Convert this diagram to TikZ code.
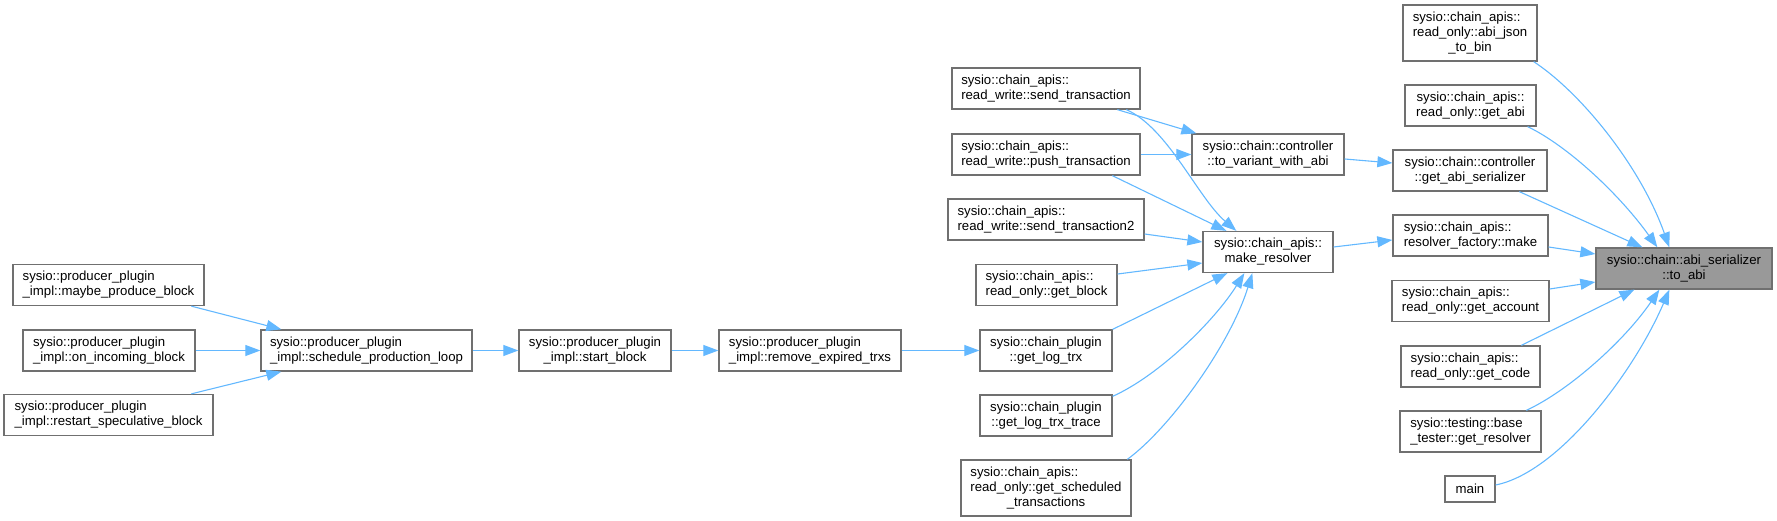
\documentclass[tikz,border=0pt]{standalone}
\usepackage{fontspec}
\setmainfont{Liberation Sans}
\usepackage{calc}
\usetikzlibrary{arrows.meta}
\definecolor{edgeblue}{HTML}{63B8FF}
\definecolor{boxborder}{HTML}{707070}
\definecolor{hlfill}{HTML}{999999}
\newcommand{\lline}[2]{\makebox[\widthof{#1}][l]{#2}}
\tikzset{
  fnbox/.style={draw=boxborder, line width=1.3pt, fill=white, inner sep=0pt,
    font=\fontsize{13.2}{15}\selectfont, minimum height=41pt},
  lft/.style={fnbox, align=left},
  ctr/.style={fnbox, align=center},
  calls/.style={draw=edgeblue, line width=1.1pt, -{Triangle[length=15pt,width=11pt]}}
}
\begin{document}
\begin{tikzpicture}[x=1pt,y=-1pt]
\useasboundingbox (0,0) rectangle (1777,521);
% left part
\node[lft, minimum width=191pt] (mpb) at (108.5,285) {sysio::producer\_plugin\\\_impl::maybe\_produce\_block};
\node[lft, minimum width=172pt] (oib) at (109,350.5) {sysio::producer\_plugin\\\_impl::on\_incoming\_block};
\node[lft, minimum width=209pt] (rsb) at (108.5,415) {sysio::producer\_plugin\\\_impl::restart\_speculative\_block};
\node[lft, minimum width=211pt] (spl) at (366.5,350.5) {sysio::producer\_plugin\\\_impl::schedule\_production\_loop};
\node[ctr, minimum width=152pt] (sb) at (595,350.5) {sysio::producer\_plugin\\\_impl::start\_block};
\node[lft, minimum width=182pt] (ret) at (810,350.5) {sysio::producer\_plugin\\\_impl::remove\_expired\_trxs};
% middle column
\node[lft, minimum width=188pt] (st) at (1046,88.5) {sysio::chain\_apis::\\read\_write::send\_transaction};
\node[lft, minimum width=188pt] (pt) at (1046,154.5) {sysio::chain\_apis::\\read\_write::push\_transaction};
\node[lft, minimum width=196pt] (st2) at (1046,219.5) {sysio::chain\_apis::\\read\_write::send\_transaction2};
\node[lft, minimum width=141pt] (gb) at (1046.5,285) {sysio::chain\_apis::\\read\_only::get\_block};
\node[ctr, minimum width=132pt] (glt) at (1046,350.5) {sysio::chain\_plugin\\::get\_log\_trx};
\node[ctr, minimum width=132pt] (gltt) at (1046,415.5) {sysio::chain\_plugin\\::get\_log\_trx\_trace};
\node[ctr, minimum width=170pt, minimum height=56pt] (gst) at (1046,488) {\lline{read\_only::get\_scheduled}{sysio::chain\_apis::}\\read\_only::get\_scheduled\\\_transactions};
\node[ctr, minimum width=152pt] (tvwa) at (1268,154.5) {sysio::chain::controller\\::to\_variant\_with\_abi};
\node[ctr, minimum width=130pt] (mr) at (1268,252) {sysio::chain\_apis::\\make\_resolver};
% right column
\node[ctr, minimum width=134pt, minimum height=56pt] (ajtb) at (1470,33) {\lline{read\_only::abi\_json}{sysio::chain\_apis::}\\read\_only::abi\_json\\\_to\_bin};
\node[ctr, minimum width=131pt] (ga) at (1470.5,105.5) {sysio::chain\_apis::\\read\_only::get\_abi};
\node[ctr, minimum width=154pt] (gas) at (1470,170.5) {sysio::chain::controller\\::get\_abi\_serializer};
\node[lft, minimum width=155pt] (rfm) at (1470.5,235.5) {sysio::chain\_apis::\\resolver\_factory::make};
\node[lft, minimum width=157pt] (gacc) at (1470.5,301) {sysio::chain\_apis::\\read\_only::get\_account};
\node[lft, minimum width=139pt] (gc) at (1470.5,366.5) {sysio::chain\_apis::\\read\_only::get\_code};
\node[lft, minimum width=141pt] (gr) at (1470.5,431.5) {sysio::testing::base\\\_tester::get\_resolver};
\node[ctr, minimum width=50pt, minimum height=26pt] (main) at (1470,489) {main};
\node[ctr, fill=hlfill, minimum width=176pt] (toabi) at (1684,268.5) {sysio::chain::abi\_serializer\\::to\_abi};
% edges: left part
\draw[calls] ([xshift=179pt]mpb.south west) -- ([xshift=21pt]spl.north west);
\draw[calls] (oib.east) -- (spl.west);
\draw[calls] ([xshift=188pt]rsb.north west) -- ([xshift=21pt]spl.south west);
\draw[calls] (spl.east) -- (sb.west);
\draw[calls] (sb.east) -- (ret.west);
\draw[calls] (ret.east) -- (glt.west);
% edges: middle
\draw[calls] ([xshift=166pt]st.south west) -- ([xshift=5pt]tvwa.north west);
\draw[calls] ([xshift=175pt]st.south west) .. controls (1168,128) and (1198,198) .. ([xshift=34pt]mr.north west);
\draw[calls] (pt.east) -- (tvwa.west);
\draw[calls] ([xshift=161pt]pt.south west) -- ([xshift=24pt]mr.north west);
\draw[calls] ([yshift=-14.5pt]st2.east) -- ([yshift=10pt]mr.west);
\draw[calls] ([yshift=11pt]gb.east) -- ([yshift=-11pt]mr.west);
\draw[calls] (glt.north east) -- ([xshift=25pt]mr.south west);
\draw[calls] ([yshift=-2pt]gltt.north east) .. controls (1160,375) and (1215,320) .. ([xshift=42pt]mr.south west);
\draw[calls] ([xshift=167pt]gst.north west) .. controls (1170,428) and (1230,345) .. ([xshift=50pt]mr.south west);
\draw[calls] ([yshift=-4.5pt]tvwa.east) -- ([yshift=7.5pt]gas.west);
\draw[calls] ([yshift=5pt]mr.east) -- ([yshift=-4.5pt]rfm.west);
% edges: right
\draw[calls] ([xshift=-4pt]ajtb.south east) .. controls (1580,92) and (1640,165) .. ([xshift=74pt]toabi.north west);
\draw[calls] ([xshift=-9pt]ga.south east) .. controls (1568,146) and (1620,195) .. ([xshift=62pt]toabi.north west);
\draw[calls] ([xshift=127pt]gas.south west) -- ([xshift=47pt]toabi.north west);
\draw[calls] ([yshift=-11.5pt]rfm.east) -- ([yshift=14.5pt]toabi.west);
\draw[calls] ([yshift=12pt]gacc.east) -- ([yshift=-13.5pt]toabi.west);
\draw[calls] ([xshift=121pt]gc.north west) -- ([xshift=39pt]toabi.south west);
\draw[calls] ([xshift=127pt]gr.north west) .. controls (1570,390) and (1625,340) .. ([xshift=64pt]toabi.south west);
\draw[calls] ([yshift=4pt]main.east) .. controls (1560,472) and (1635,370) .. ([xshift=74pt]toabi.south west);
\end{tikzpicture}
\end{document}
